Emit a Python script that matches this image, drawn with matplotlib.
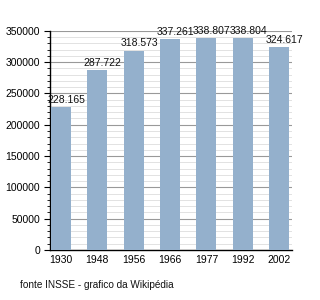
import matplotlib
matplotlib.use("Agg")
import matplotlib.pyplot as plt
from matplotlib.ticker import MultipleLocator

# dati popolazione
anni = ["1930", "1948", "1956", "1966", "1977", "1992", "2002"]
popolazione = [228165, 287722, 318573, 337261, 338807, 338804, 324617]
etichette = ["228.165", "287.722", "318.573", "337.261", "338.807", "338.804", "324.617"]

plt.rcParams["font.family"] = ["Liberation Sans", "DejaVu Sans"]
plt.rcParams["font.size"] = 7.5

fig = plt.figure(figsize=(3.2, 3.0), dpi=100)
ax = fig.add_axes([0.156, 0.167, 0.756, 0.73])

x = list(range(len(anni)))
ax.bar(x, popolazione, width=0.55, color="#94b0cc", zorder=3)

for xi, v, lab in zip(x, popolazione, etichette):
    ax.annotate(lab, (xi, v), xytext=(4, 1.5), textcoords="offset points",
                ha="center", va="bottom", fontsize=7.5, color="#111111", zorder=4)

ax.set_xlim(-0.30, 6.35)
ax.set_ylim(0, 350000)
ax.set_xticks(x)
ax.set_xticklabels(anni)
ax.yaxis.set_major_locator(MultipleLocator(50000))
ax.yaxis.set_minor_locator(MultipleLocator(10000))

ax.grid(axis="y", which="major", color="#999999", linewidth=0.8, zorder=1)
ax.grid(axis="y", which="minor", color="#dddddd", linewidth=0.6, zorder=0)

ax.spines["top"].set_visible(False)
ax.spines["right"].set_visible(False)
ax.spines["left"].set_linewidth(1.0)
ax.spines["bottom"].set_linewidth(1.0)
ax.tick_params(axis="x", length=0, pad=4)
ax.tick_params(axis="y", which="major", length=4, width=0.8, pad=3)
ax.tick_params(axis="y", which="minor", length=2, width=0.6)

fig.text(0.0625, 0.04, "fonte INSSE - grafico da Wikipédia", fontsize=7.2, color="#111111")

fig.savefig("out.png")
